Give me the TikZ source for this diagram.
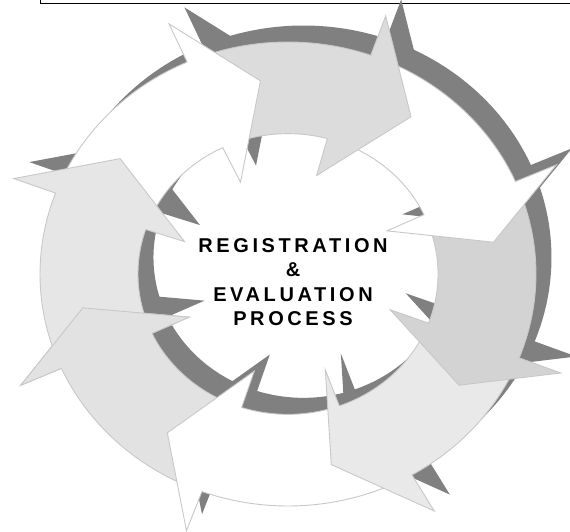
\documentclass[tikz,border=0pt]{standalone}
\usepackage{fontspec}
\setmainfont{Liberation Sans}
\newfontfamily\cyclefont[LetterSpace=18]{Liberation Sans Bold}

\definecolor{cycleshadow}{HTML}{808080}
\definecolor{cycleline}{HTML}{C8C8C8}
\definecolor{cycleA}{HTML}{E6E6E6}
\definecolor{cycleB}{HTML}{DCDCDC}
\definecolor{cycleC}{HTML}{D3D3D3}
\definecolor{cycleD}{HTML}{E9E9E9}
\definecolor{cycleE}{HTML}{E2E2E2}

% one curved arrow of the ring: tail outer/inner, head base outer/inner, tip
\newcommand\cyclearrow[5]{(#1:1) arc[start angle=#1, end angle=#3, radius=1]
  -- (#3:1.18) -- (#5:0.84) -- (#4:0.44) -- (#4:0.605)
  arc[start angle=#4, end angle=#2, radius=0.605] -- cycle}

\begin{document}
\begin{tikzpicture}
     [x=1pt, y=1pt,
      ring/.style={shift={(288pt,257pt)}, xscale=248, yscale=232},
      arrowpart/.style={draw=cycleline, line width=0.9pt},
      title/.style={font=\cyclefont\fontsize{20}{24.4}\selectfont,
                    align=center, inner sep=0pt}]
   \useasboundingbox (0,0) rectangle (570,531);
   \draw[line width=0.8pt] (40,545) rectangle (590,528);
   % shadow of the ring
   \begin{scope}[shift={(15.5pt,16.5pt)}, ring]
     \foreach \so/\si/\bo/\bi/\t in {-112.3/-109.5/-156/-155/-170,
         -62/-71.5/-110.3/-108/-125.4, -23.2/-22/-60/-70/-78,
         21.5/23.5/-21.2/-20.5/-34.8, 68.5/73.3/23.5/25/9.4,
         112/114.3/70.5/74.8/53.8, 157.6/160/114/115.8/97.6,
         202/203.5/159.6/161.5/143.7}
       \fill[cycleshadow] \cyclearrow{\so}{\si}{\bo}{\bi}{\t};
   \end{scope}
   % the arrows, each head over the next tail
   \begin{scope}[ring]
     \foreach \so/\si/\bo/\bi/\t/\c in {-112.3/-109.5/-156/-155/-170/cycleE,
         -62/-71.5/-110.3/-108/-125.4/white, -23.2/-22/-60/-70/-78/cycleD,
         21.5/23.5/-21.2/-20.5/-34.8/cycleC, 68.5/73.3/23.5/25/9.4/white,
         112/114.3/70.5/74.8/53.8/cycleB, 157.6/160/114/115.8/97.6/white,
         202/203.5/159.6/161.5/143.7/cycleA}
       \filldraw[arrowpart, fill=\c] \cyclearrow{\so}{\si}{\bo}{\bi}{\t};
     \fill[cycleE] (-156:1) -- (-156:1.18) -- (-170:0.84) -- (-155:0.44)
       -- (-155:0.605) -- cycle;
     \draw[arrowpart] (-156:1) -- (-156:1.18) -- (-170:0.84) -- (-155:0.44)
       -- (-155:0.605);
   \end{scope}
   \node (process) [title] at (293,249) {REGISTRATION\\ \&\\ EVALUATION\\ PROCESS};
\end{tikzpicture}
\end{document}
